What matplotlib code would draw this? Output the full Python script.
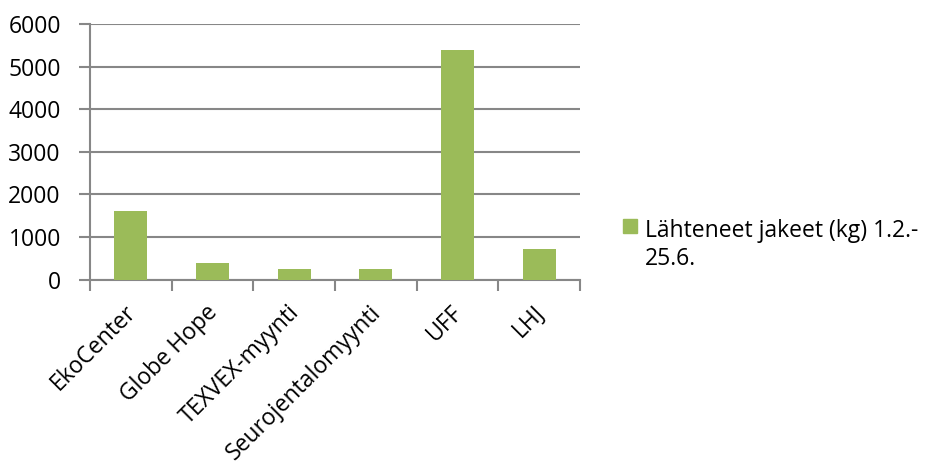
import matplotlib
matplotlib.use("Agg")
import matplotlib.pyplot as plt
from matplotlib.patches import Rectangle
from matplotlib.transforms import ScaledTranslation

categories = ["EkoCenter", "Globe Hope", "TEXVEX-myynti", "Seurojentalomyynti", "UFF", "LHJ"]
values = [1620, 395, 260, 250, 5400, 710]
series_label = "Lähteneet jakeet (kg) 1.2.-\n25.6."
yticks = [0, 1000, 2000, 3000, 4000, 5000, 6000]

GREEN = "#9BBB59"
GRID = "#878787"
FONT = "Open Sans"
FS = 16.5

fig = plt.figure(figsize=(9.29, 4.62), dpi=100)
ax = fig.add_axes([90/929, 1-279.7/462, (580-90)/929, (279.7-24)/462])

x = list(range(len(categories)))
ax.bar(x, values, width=0.4, color=GREEN, zorder=3)

ax.set_xlim(-0.5, len(categories) - 0.5)
ax.set_ylim(0, 6000)
ax.set_yticks(yticks)
ax.set_yticklabels([str(v) for v in yticks], fontsize=FS, family=FONT)
ax.yaxis.grid(True, color=GRID, linewidth=1.5, zorder=0)
ax.set_axisbelow(True)

ax.set_xticks(x)
ax.set_xticklabels(categories, rotation=45, ha="right", va="top",
                   rotation_mode="anchor", fontsize=FS, family=FONT)
ax.tick_params(axis="x", which="major", length=0, pad=10)
off = ScaledTranslation(-7/100, -7/100, fig.dpi_scale_trans)
for lab in ax.get_xticklabels():
    lab.set_transform(lab.get_transform() + off)
ax.set_xticks([i - 0.5 for i in range(len(categories) + 1)], minor=True)
ax.tick_params(axis="x", which="minor", length=8, width=1.5, color=GRID, direction="out")
ax.tick_params(axis="y", length=8, width=1.5, color=GRID, direction="out", pad=13)

for s in ["top", "right"]:
    ax.spines[s].set_visible(False)
for s in ["left", "bottom"]:
    ax.spines[s].set_color(GRID)
    ax.spines[s].set_linewidth(1.5)

# legend
fig.patches.append(Rectangle((623/929, 1-233/462), 14/929, 14/462,
                             transform=fig.transFigure, color=GREEN, figure=fig))
fig.text(645/929, 1-265/462, series_label, fontsize=FS, family=FONT,
         va="baseline", ha="left", linespacing=1.22)

fig.savefig("out.png", dpi=100)
